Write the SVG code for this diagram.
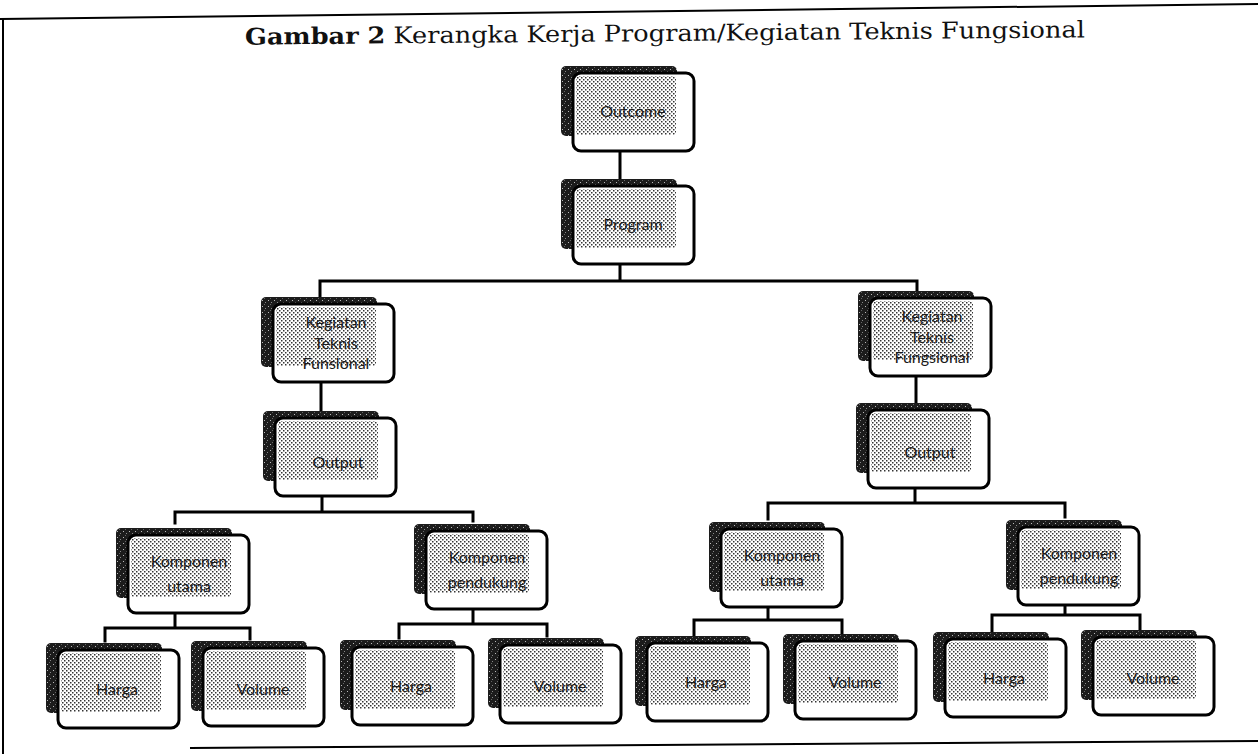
<svg xmlns="http://www.w3.org/2000/svg" xmlns:xlink="http://www.w3.org/1999/xlink" width="1258" height="754" viewBox="0 0 1258 754">
  <style>
    .frame { stroke: #000; stroke-width: 2; fill: none; }
    .title { font-family: "DejaVu Serif", "Liberation Serif", serif; font-size: 23px; fill: #111; }
    .title .b { font-weight: bold; }
    .back { fill: url(#dark); }
    .front { fill: #fff; stroke: #000; stroke-width: 3; }
    .stip { fill: url(#stip); }
    .lbl { font-family: Lato, "Open Sans", sans-serif; font-size: 16px; fill: #1a1a1a; text-anchor: middle; }
    .conn { stroke: #000; stroke-width: 3; fill: none; stroke-linecap: square; }
  </style>
  <defs>
    <!-- dotted halftone used inside each card -->
    <pattern id="stip" width="4" height="4" patternUnits="userSpaceOnUse">
      <rect width="4" height="4" fill="#fff"/>
      <rect x="0" y="0" width="1.5" height="1.5" fill="#333"/>
      <rect x="2" y="2" width="1.5" height="1.5" fill="#333"/>
    </pattern>
    <!-- dark speckled texture of the rear card -->
    <pattern id="dark" width="6" height="6" patternUnits="userSpaceOnUse">
      <rect width="6" height="6" fill="#1c1c1c"/>
      <rect x="1" y="2" width="1" height="1" fill="#bbb"/>
      <rect x="4" y="4" width="1" height="1" fill="#888"/>
      <rect x="3" y="0" width="1" height="1" fill="#666"/>
    </pattern>
    <!-- stacked card: rear card, front card, halftone overlap -->
    <g id="card">
      <rect class="back" x="-12" y="-7" width="116" height="70" rx="5"/>
      <rect class="front" x="0" y="0" width="121" height="78" rx="8"/>
      <rect class="stip" x="3" y="3" width="100" height="59" rx="3"/>
    </g>
  </defs>

  <rect width="1258" height="754" fill="#fff"/>

  <!-- page frame -->
  <g id="frame">
    <line class="frame" x1="0" y1="19" x2="1258" y2="4"/>
    <line class="frame" x1="3" y1="19" x2="3" y2="754"/>
    <line class="frame" x1="190" y1="748" x2="1258" y2="741"/>
  </g>

  <text class="title" x="245" y="41" textLength="840" lengthAdjust="spacingAndGlyphs" transform="rotate(-0.5 665 36)"><tspan class="b">Gambar 2</tspan> Kerangka Kerja Program/Kegiatan Teknis Fungsional</text>

  <!-- connectors -->
  <g id="connectors">
    <path class="conn" d="M620 151 V179"/>
    <path class="conn" d="M620 265 V280 M320 296 V281 H917 V290"/>
    <path class="conn" d="M321 382 V410"/>
    <path class="conn" d="M916 376 V402"/>
    <path class="conn" d="M322 496 V512 M175 523 V512 H473 V521"/>
    <path class="conn" d="M915 488 V503 M768 519 V503 H1065 V517"/>
    <path class="conn" d="M175 613 V628 M105 641 V628 H250 V639"/>
    <path class="conn" d="M473 609 V624 M399 638 V624 H547 V636"/>
    <path class="conn" d="M768 607 V620 M694 635 V620 H842 V633"/>
    <path class="conn" d="M1065 605 V615 M992 631 V615 H1140 V629"/>
  </g>

  <g id="outcome" transform="translate(573 73)">
    <use xlink:href="#card"/>
    <text class="lbl" x="60" y="44">Outcome</text>
  </g>
  <g id="program" transform="translate(573 186)">
    <use xlink:href="#card"/>
    <text class="lbl" x="60" y="44">Program</text>
  </g>

  <g id="kegiatan-left" transform="translate(273 304)">
    <use xlink:href="#card"/>
    <text class="lbl" x="63" y="24">Kegiatan</text>
    <text class="lbl" x="63" y="45">Teknis</text>
    <text class="lbl" x="63" y="65">Funsional</text>
  </g>
  <g id="kegiatan-right" transform="translate(870 298)">
    <use xlink:href="#card"/>
    <text class="lbl" x="62" y="24">Kegiatan</text>
    <text class="lbl" x="62" y="45">Teknis</text>
    <text class="lbl" x="62" y="65">Fungsional</text>
  </g>

  <g id="output-left" transform="translate(275 418)">
    <use xlink:href="#card"/>
    <text class="lbl" x="63" y="50">Output</text>
  </g>
  <g id="output-right" transform="translate(868 410)">
    <use xlink:href="#card"/>
    <text class="lbl" x="62" y="48">Output</text>
  </g>

  <g id="komponen-utama-left" transform="translate(128 535)">
    <use xlink:href="#card"/>
    <text class="lbl" x="61" y="32">Komponen</text>
    <text class="lbl" x="61" y="57">utama</text>
  </g>
  <g id="komponen-pendukung-left" transform="translate(426 531)">
    <use xlink:href="#card"/>
    <text class="lbl" x="61" y="32">Komponen</text>
    <text class="lbl" x="61" y="57">pendukung</text>
  </g>
  <g id="komponen-utama-right" transform="translate(721 529)">
    <use xlink:href="#card"/>
    <text class="lbl" x="61" y="32">Komponen</text>
    <text class="lbl" x="61" y="57">utama</text>
  </g>
  <g id="komponen-pendukung-right" transform="translate(1018 527)">
    <use xlink:href="#card"/>
    <text class="lbl" x="61" y="32">Komponen</text>
    <text class="lbl" x="61" y="57">pendukung</text>
  </g>

  <g id="harga-1" transform="translate(58 650)">
    <use xlink:href="#card"/>
    <text class="lbl" x="59" y="45">Harga</text>
  </g>
  <g id="volume-1" transform="translate(203 648)">
    <use xlink:href="#card"/>
    <text class="lbl" x="60" y="47">Volume</text>
  </g>
  <g id="harga-2" transform="translate(352 647)">
    <use xlink:href="#card"/>
    <text class="lbl" x="59" y="45">Harga</text>
  </g>
  <g id="volume-2" transform="translate(500 645)">
    <use xlink:href="#card"/>
    <text class="lbl" x="60" y="47">Volume</text>
  </g>
  <g id="harga-3" transform="translate(647 643)">
    <use xlink:href="#card"/>
    <text class="lbl" x="59" y="45">Harga</text>
  </g>
  <g id="volume-3" transform="translate(795 641)">
    <use xlink:href="#card"/>
    <text class="lbl" x="60" y="47">Volume</text>
  </g>
  <g id="harga-4" transform="translate(945 639)">
    <use xlink:href="#card"/>
    <text class="lbl" x="59" y="45">Harga</text>
  </g>
  <g id="volume-4" transform="translate(1093 637)">
    <use xlink:href="#card"/>
    <text class="lbl" x="60" y="47">Volume</text>
  </g>
</svg>
